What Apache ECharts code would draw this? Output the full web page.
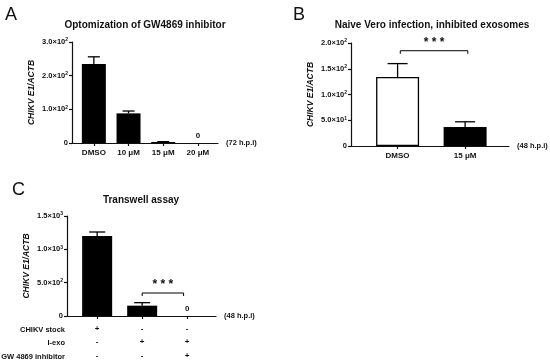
<!DOCTYPE html>
<html><head><meta charset="utf-8">
<script src="https://cdn.jsdelivr.net/npm/echarts@6/dist/echarts.min.js"></script>
<style>html,body{margin:0;padding:0;background:#fff}#c{width:550px;height:364px}</style>
</head><body><div id="c"></div>
<script>
// Panel A
const catsA = ['DMSO', '10 \u03bcM', '15 \u03bcM', '20 \u03bcM'];
const valsA = [235, 88, 3, 0];
const errA = [21, 7, 1, 0];
const ticksA = ['0', '1.0\u00d710{s|2}', '2.0\u00d710{s|2}', '3.0\u00d710{s|2}'];
// Panel B
const catsB = ['DMSO', '15 \u03bcM'];
const valsB = [134, 37];
const errB = [26, 10];
const ticksB = ['0', '5.0\u00d710{s|1}', '1.0\u00d710{s|2}', '1.5\u00d710{s|2}', '2.0\u00d710{s|2}'];
// Panel C
const catsC = ['CHIKV stock', 'I-exo', 'GW 4869 inhibitor'];
const valsC = [1200, 155, 0];
const errC = [60, 45, 0];
const ticksC = ['0', '5.0\u00d710{s|2}', '1.0\u00d710{s|3}', '1.5\u00d710{s|3}'];
const rowStock = ['+', '-', '-'];
const rowIexo = ['-', '+', '+'];
const rowGW = ['-', '-', '+'];
const rowNames = ['CHIKV stock', 'I-exo', 'GW 4869 inhibitor'];

const F = 'Liberation Sans, Arial, sans-serif';
const K = '#111';
const chart = echarts.init(document.getElementById('c'));

function yAxis(gi, max, interval, ticks, gap) {
  return {
    gridIndex: gi, type: 'value', min: 0, max: max, interval: interval,
    name: '{i|CHIKV E1/ACTB}', nameLocation: 'middle', nameGap: gap, nameRotate: 90,
    nameTextStyle: { rich: { i: { fontStyle: 'italic', fontWeight: 'bold', fontSize: 8.5, fontFamily: F, color: K } } },
    axisLine: { show: true, onZero: false, lineStyle: { color: K, width: 1.2 } },
    axisTick: { show: true, length: 3, lineStyle: { color: K, width: 1.2 } },
    splitLine: { show: false },
    axisLabel: {
      margin: 4, color: K, fontSize: 7.5, fontWeight: 'bold', fontFamily: F,
      formatter: (v) => ticks[Math.round(v / interval)],
      rich: { s: { fontSize: 5, fontWeight: 'bold', verticalAlign: 'top', padding: [0, 0, 4, 0], color: K, fontFamily: F } }
    }
  };
}
function xAxis(gi, cats, min, max, name, labelFmt, lh, margin) {
  const idx = cats.map((c, i) => i);
  return {
    gridIndex: gi, type: 'value', min: min, max: max,
    name: name, nameLocation: 'end', nameGap: 8,
    nameTextStyle: { color: K, fontSize: 7.5, fontWeight: 'bold', fontFamily: F, verticalAlign: 'middle' },
    axisLine: { show: true, onZero: false, lineStyle: { color: K, width: 1.2 } },
    axisTick: { show: true, length: 3, customValues: idx, lineStyle: { color: K, width: 1.2 } },
    splitLine: { show: false },
    axisLabel: {
      customValues: idx, margin: margin || 5, color: K, fontSize: 8, fontWeight: 'bold', fontFamily: F,
      lineHeight: lh || 10,
      formatter: labelFmt || ((v) => cats[Math.round(v)])
    }
  };
}
function barSeries(gi, vals, width, styles) {
  return {
    type: 'bar', xAxisIndex: gi, yAxisIndex: gi, barWidth: width,
    data: vals.map((v, i) => ({ value: [i, v], itemStyle: styles ? styles[i] : undefined })),
    itemStyle: { color: '#000' },
    label: {
      show: true, position: 'top', distance: 3, color: K, fontSize: 8, fontWeight: 'bold', fontFamily: F,
      formatter: (p) => p.value[1] === 0 ? '0' : ''
    },
    silent: true, z: 2
  };
}
function errSeries(gi, vals, errs, cap) {
  return {
    type: 'custom', xAxisIndex: gi, yAxisIndex: gi, silent: true, z: 3,
    data: vals.map((v, i) => [i, v, errs[i]]),
    renderItem: (params, api) => {
      const x = api.value(0), y = api.value(1), e = api.value(2);
      if (!e) return null;
      const p0 = api.coord([x, y]), p1 = api.coord([x, y + e]);
      const st = { stroke: '#000', lineWidth: 1.3 };
      return { type: 'group', children: [
        { type: 'line', shape: { x1: p0[0], y1: p0[1], x2: p1[0], y2: p1[1] }, style: st },
        { type: 'line', shape: { x1: p1[0] - cap, y1: p1[1], x2: p1[0] + cap, y2: p1[1] }, style: st }
      ] };
    }
  };
}
function bracket(gi, x1, x2, yTop, yEnd) {
  return {
    type: 'custom', xAxisIndex: gi, yAxisIndex: gi, silent: true, z: 4,
    data: [[x1, x2, yTop, yEnd]],
    renderItem: (params, api) => {
      const a = api.coord([api.value(0), api.value(3)]);
      const b = api.coord([api.value(0), api.value(2)]);
      const c = api.coord([api.value(1), api.value(2)]);
      const d = api.coord([api.value(1), api.value(3)]);
      return { type: 'group', children: [
        { type: 'polyline', shape: { points: [a, b, c, d] }, style: { stroke: '#000', lineWidth: 1, fill: null } },
        { type: 'text', style: { x: (b[0] + c[0]) / 2, y: b[1] - 2, text: '* * *', fontSize: 12, fontWeight: 'bold', fontFamily: F, fill: K, align: 'center', verticalAlign: 'bottom' } }
      ] };
    }
  };
}
const titleStyle = { color: K, fontSize: 10, fontWeight: 'bold', fontFamily: F };
const letterStyle = { color: K, fontSize: 18, fontWeight: 'normal', fontFamily: F };

chart.setOption({
  animation: false,
  title: [
    { text: 'A', left: 5, top: 6, padding: 0, textStyle: letterStyle },
    { text: 'B', left: 293, top: 6, padding: 0, textStyle: letterStyle },
    { text: 'C', left: 12, top: 181, padding: 0, textStyle: letterStyle },
    { text: 'Optomization of GW4869 inhibitor', left: 145, top: 20, padding: 0, textAlign: 'center', textStyle: titleStyle },
    { text: 'Naive Vero infection, inhibited exosomes', left: 432, top: 20, padding: 0, textAlign: 'center', textStyle: titleStyle },
    { text: 'Transwell assay', left: 141, top: 195, padding: 0, textAlign: 'center', textStyle: titleStyle }
  ],
  grid: [
    { left: 72, top: 42, width: 146, height: 101 },
    { left: 351, top: 43, width: 158, height: 103 },
    { left: 67, top: 216, width: 149, height: 100 }
  ],
  xAxis: [
    xAxis(0, catsA, -0.63, 3.58, '(72 h.p.i)'),
    xAxis(1, catsB, -0.69, 1.65, '(48 h.p.i)'),
    xAxis(2, catsC, -0.67, 2.64, '(48 h.p.i)', (v) => {
      const i = Math.round(v);
      return [rowStock[i], rowIexo[i], rowGW[i]].join('\n');
    }, 13.5, 6)
  ],
  yAxis: [
    yAxis(0, 300, 100, ticksA, 36),
    yAxis(1, 200, 50, ticksB, 36),
    yAxis(2, 1500, 500, ticksC, 36)
  ],
  graphic: rowNames.map((n, i) => ({
    type: 'text', x: 65, y: 329.5 + i * 13.5,
    style: { text: n, fontSize: 7.5, fontWeight: 'bold', fontFamily: F, fill: K, align: 'right', verticalAlign: 'middle' }
  })),
  series: [
    barSeries(0, valsA, 24),
    errSeries(0, valsA, errA, 6),
    barSeries(1, valsB, 43, [{ color: '#fff', borderColor: '#000', borderWidth: 1.3 }, { color: '#000' }]),
    errSeries(1, valsB, errB, 10),
    bracket(1, 0.04, 1.04, 185, 179),
    barSeries(2, valsC, 30),
    errSeries(2, valsC, errC, 8),
    bracket(2, 1, 1.92, 345, 300)
  ]
});
</script></body></html>
